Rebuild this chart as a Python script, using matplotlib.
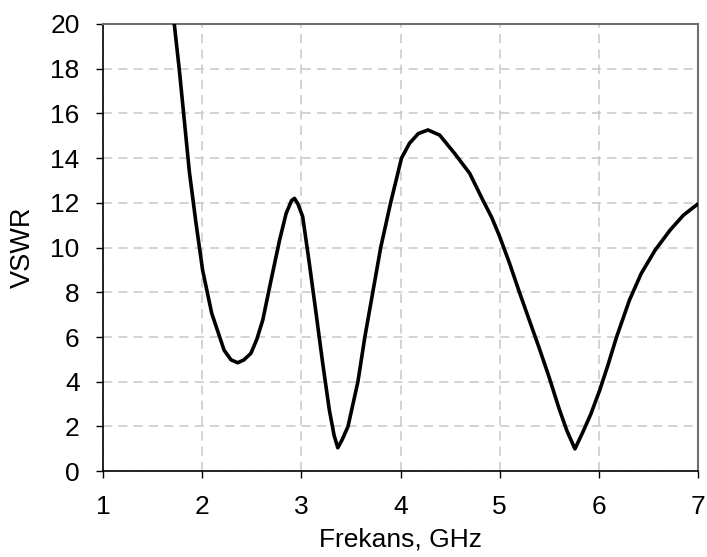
import matplotlib
matplotlib.use("Agg")
import matplotlib.pyplot as plt

freq = [1.717, 1.768, 1.818, 1.869, 1.936, 2.003, 2.095, 2.22, 2.29, 2.357, 2.42,
        2.49, 2.55, 2.61, 2.694, 2.78, 2.846, 2.90, 2.93, 2.965, 3.013, 3.08, 3.148,
        3.215, 3.282, 3.33, 3.367, 3.41, 3.47, 3.57, 3.64, 3.72, 3.80, 3.90, 4.01,
        4.09, 4.18, 4.277, 4.395, 4.546, 4.698, 4.83, 4.92, 5.0, 5.1, 5.2, 5.3, 5.4,
        5.5, 5.6, 5.68, 5.76, 5.84, 5.92, 6.01, 6.09, 6.18, 6.31, 6.43, 6.57, 6.72,
        6.855, 7.0]
vswr = [20.0, 17.94, 15.7, 13.4, 11.1, 8.99, 7.06, 5.41, 4.98, 4.85, 4.98,
        5.27, 5.9, 6.76, 8.55, 10.34, 11.53, 12.1, 12.2, 11.95, 11.38, 9.29, 7.06,
        4.82, 2.73, 1.6, 1.05, 1.4, 2.0, 4.0, 6.0, 8.0, 10.0, 12.0, 14.0,
        14.66, 15.1, 15.26, 15.03, 14.21, 13.32, 12.13, 11.35, 10.5, 9.3, 8.0, 6.75, 5.5,
        4.2, 2.8, 1.8, 1.0, 1.75, 2.55, 3.62, 4.7, 6.0, 7.65, 8.85, 9.89, 10.78,
        11.45, 11.95]

xticks = [1, 2, 3, 4, 5, 6, 7]
yticks = [0, 2, 4, 6, 8, 10, 12, 14, 16, 18, 20]

plt.rcParams['font.family'] = ['Liberation Sans', 'DejaVu Sans']

fig = plt.figure(figsize=(7.07, 5.57), dpi=100)
ax = fig.add_axes([0.146, 0.154, 0.841, 0.803])
ax.plot(freq, vswr, color='black', lw=2.6, solid_capstyle='round', solid_joinstyle='round', zorder=3)
ax.set_xlim(1, 7)
ax.set_ylim(0, 20)
ax.set_xticks(xticks)
ax.set_yticks(yticks)
ax.grid(True, color='#c8c8c8', linestyle=(0, (6, 4)), lw=1.1)
ax.set_axisbelow(True)
for s in ['top', 'right']:
    ax.spines[s].set_color('#707070')
    ax.spines[s].set_linewidth(1.5)
for s in ['left', 'bottom']:
    ax.spines[s].set_color('black')
    ax.spines[s].set_linewidth(1.2)
ax.tick_params(direction='out', length=5, width=1, labelsize=19)
ax.tick_params(axis='y', pad=12)
ax.tick_params(axis='x', pad=12)
ax.set_xlabel('Frekans, GHz', fontsize=19, labelpad=6)
ax.set_ylabel('VSWR', fontsize=19.5, labelpad=10)
fig.savefig('out.png', dpi=100)
